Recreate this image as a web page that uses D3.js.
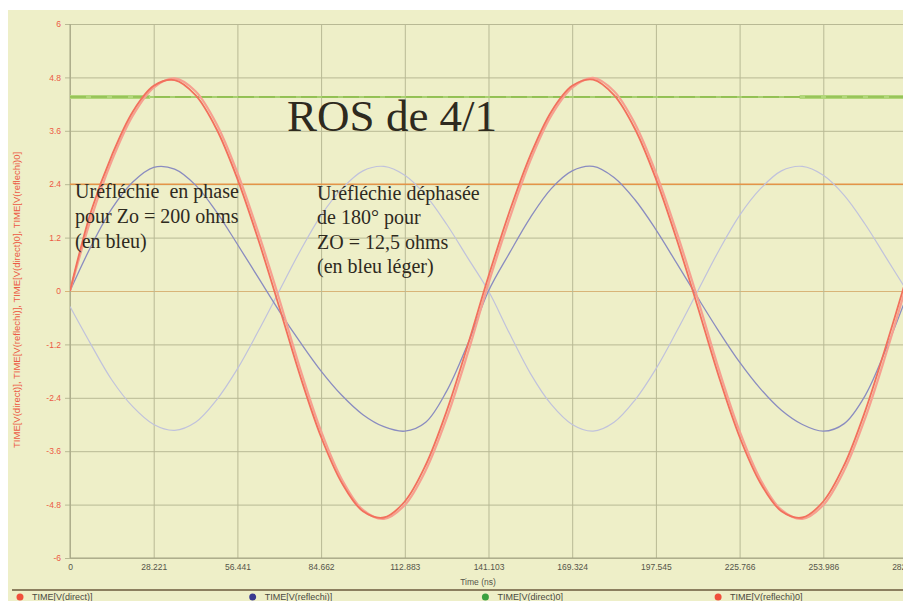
<!doctype html>
<html lang="en">
<head>
<meta charset="utf-8">
<title>ROS de 4/1</title>
<style>
  body { margin: 0; background: #fff; }
  svg { display: block; }
</style>
</head>
<body>
<script src="https://d3js.org/d3.v7.min.js"></script>
<script>
  // time samples (ns), one every 1/20 of the period
  var timeNs = [0, 7.055, 14.11, 21.166, 28.221, 35.276, 42.331, 49.386, 56.441, 63.497,
    70.552, 77.607, 84.662, 91.717, 98.772, 105.828, 112.883, 119.938, 126.993, 134.048,
    141.103, 148.159, 155.214, 162.269, 169.324, 176.379, 183.434, 190.49, 197.545, 204.6,
    211.655, 218.71, 225.766, 232.821, 239.876, 246.931, 253.986, 261.041, 268.097, 275.152, 282.207];

  var vDirect = [0, 1.78, 3.05, 4.03, 4.61, 4.74, 4.4, 3.64, 2.52, 1.15,
    -0.36, -1.91, -3.28, -4.32, -4.95, -5.09, -4.73, -3.91, -2.7, -1.23,
    0.33, 1.78, 3.05, 4.03, 4.61, 4.75, 4.4, 3.64, 2.52, 1.15,
    -0.36, -1.91, -3.28, -4.32, -4.95, -5.09, -4.73, -3.91, -2.7, -1.23, 0.33];

  var vReflechi0 = [0, 1.62, 2.93, 3.94, 4.57, 4.78, 4.49, 3.76, 2.66, 1.31,
    -0.18, -1.75, -3.15, -4.24, -4.92, -5.12, -4.81, -4.03, -2.86, -1.41,
    0.17, 1.62, 2.93, 3.94, 4.57, 4.79, 4.49, 3.76, 2.66, 1.31,
    -0.18, -1.75, -3.15, -4.24, -4.92, -5.12, -4.81, -4.03, -2.86, -1.41, 0.17];

  // Uréfléchie en phase (Zo = 200 ohms)
  var vReflechi = [0, 1.0, 1.85, 2.45, 2.78, 2.74, 2.38, 1.78, 1.05, 0.3,
    -0.45, -1.15, -1.8, -2.35, -2.78, -3.05, -3.15, -2.95, -2.25, -1.2,
    0, 0.85, 1.65, 2.3, 2.7, 2.8, 2.55, 2.05, 1.38, 0.62,
    -0.15, -0.9, -1.6, -2.2, -2.68, -3.0, -3.15, -2.98, -2.35, -1.3, -0.1];

  // Uréfléchie déphasée de 180° (ZO = 12,5 ohms)
  var vReflechiLeger = [-0.35, -1.2, -2.0, -2.6, -3.0, -3.13, -2.95, -2.45, -1.75, -0.9,
    0, 0.9, 1.7, 2.3, 2.7, 2.8, 2.6, 2.15, 1.5, 0.75,
    0, -0.95, -1.85, -2.55, -3.0, -3.15, -2.95, -2.45, -1.75, -0.9,
    0, 0.9, 1.7, 2.3, 2.7, 2.8, 2.6, 2.15, 1.5, 0.75, 0];

  var vDirect0Level = [4.36];
  var vDirect0Bold = [[0, 27], [246, 282.207]];
  var markerLevel = [2.4];

  var xTicks = [0, 28.221, 56.441, 84.662, 112.883, 141.103, 169.324, 197.545, 225.766, 253.986, 282.207];
  var yTicks = [-6, -4.8, -3.6, -2.4, -1.2, 0, 1.2, 2.4, 3.6, 4.8, 6];

  var legendLabels = ['TIME[V(direct)]', 'TIME[V(reflechi)]', 'TIME[V(direct)0]', 'TIME[V(reflechi)0]'];
  var legendColors = ['#f0503c', '#3a3a90', '#3aa040', '#f0503c'];

  var W = 903, H = 601;
  var margin = { top: 24, left: 70 };
  var plotW = 837, plotH = 534;

  var x = d3.scaleLinear().domain([0, 282.207]).range([0, plotW]);
  var y = d3.scaleLinear().domain([-6, 6]).range([plotH, 0]);

  var svg = d3.select('body').append('svg')
      .attr('width', W)
      .attr('height', H);

  // paper background
  svg.append('rect')
      .attr('x', 8).attr('y', 10)
      .attr('width', W - 8).attr('height', H - 10)
      .attr('fill', '#eeefc8');

  var g = svg.append('g')
      .attr('transform', 'translate(' + margin.left + ',' + margin.top + ')');

  g.append('clipPath').attr('id', 'plotclip')
    .append('rect')
      .attr('x', 0).attr('y', -2)
      .attr('width', plotW).attr('height', plotH + 4);

  // grid + y labels
  var yAxis = g.append('g')
      .call(d3.axisLeft(y).tickValues(yTicks).tickSize(-plotW - 5).tickPadding(4)
        .tickFormat(function(d) { return d === 0 ? '0' : String(d); }))
      .attr('transform', 'translate(-5,0)');
  yAxis.select('.domain').remove();
  yAxis.selectAll('.tick line')
      .attr('stroke', function(d) { return d === 0 ? '#d8b478' : '#b8b994'; })
      .attr('stroke-width', 1);
  yAxis.selectAll('.tick text')
      .attr('fill', '#ec5a44')
      .attr('font-family', 'Liberation Sans, Arial, sans-serif')
      .attr('font-size', 8.5);

  var xAxis = g.append('g')
      .attr('transform', 'translate(0,' + plotH + ')')
      .call(d3.axisBottom(x).tickValues(xTicks).tickSize(-plotH).tickPadding(6)
        .tickFormat(function(d) { return d === 0 ? '0' : d3.format('.3f')(d); }));
  xAxis.select('.domain').remove();
  xAxis.selectAll('.tick line')
      .attr('stroke', '#b8b994')
      .attr('stroke-width', 1);
  xAxis.selectAll('.tick text')
      .attr('fill', '#55554a')
      .attr('font-family', 'Liberation Sans, Arial, sans-serif')
      .attr('font-size', 8.5);

  // frame
  g.append('line').attr('x1', 0).attr('x2', 0).attr('y1', 0).attr('y2', plotH)
      .attr('stroke', '#a4a484');
  g.append('line').attr('x1', 0).attr('x2', plotW).attr('y1', plotH).attr('y2', plotH)
      .attr('stroke', '#a4a484');

  var plot = g.append('g').attr('clip-path', 'url(#plotclip)');

  // horizontal levels
  plot.selectAll('.lvl-orange')
    .data(markerLevel)
    .enter().append('line')
      .attr('x1', 0).attr('x2', plotW)
      .attr('y1', function(d) { return y(d); })
      .attr('y2', function(d) { return y(d); })
      .attr('stroke', '#e39448')
      .attr('stroke-width', 1.6);

  plot.selectAll('.lvl-green')
    .data(vDirect0Level)
    .enter().append('line')
      .attr('x1', 0).attr('x2', plotW)
      .attr('y1', function(d) { return y(d); })
      .attr('y2', function(d) { return y(d); })
      .attr('stroke', '#a8d070')
      .attr('stroke-width', 2);
  plot.selectAll('.lvl-green-bold')
    .data(vDirect0Bold)
    .enter().append('line')
      .attr('x1', function(d) { return x(d[0]); })
      .attr('x2', function(d) { return x(d[1]); })
      .attr('y1', y(vDirect0Level[0]))
      .attr('y2', y(vDirect0Level[0]))
      .attr('stroke', '#b2d77a')
      .attr('stroke-width', 4);
  plot.selectAll('.lvl-green2')
    .data(vDirect0Level)
    .enter().append('line')
      .attr('x1', 0).attr('x2', plotW)
      .attr('y1', function(d) { return y(d); })
      .attr('y2', function(d) { return y(d); })
      .attr('stroke', '#7fb23c')
      .attr('stroke-width', 1)
      .attr('stroke-dasharray', '16,5');

  var line = function(vals) {
    return d3.line()
      .x(function(d, i) { return x(timeNs[i]); })
      .y(function(d) { return y(d); })
      .curve(d3.curveCatmullRom)(vals);
  };

  var series = [
    { vals: vReflechiLeger, color: '#c0c2dc', w: 1.2 },
    { vals: vReflechi, color: '#8a8cc0', w: 1.3 },
    { vals: vReflechi0, color: '#f6a090', w: 2.2 },
    { vals: vDirect, color: '#f2705c', w: 1.8 }
  ];

  plot.selectAll('.trace')
    .data(series)
    .enter().append('path')
      .attr('class', 'trace')
      .attr('d', function(d) { return line(d.vals); })
      .attr('fill', 'none')
      .attr('stroke', function(d) { return d.color; })
      .attr('stroke-width', function(d) { return d.w; });

  // axis titles
  svg.append('text')
      .attr('x', 478).attr('y', 585)
      .attr('text-anchor', 'middle')
      .attr('font-family', 'Liberation Sans, Arial, sans-serif')
      .attr('font-size', 8.5)
      .attr('fill', '#55554a')
      .text('Time (ns)');

  svg.append('text')
      .attr('transform', 'translate(20,' + (margin.top + y(-0.2)) + ') rotate(-90)')
      .attr('text-anchor', 'middle')
      .attr('font-family', 'Liberation Sans, Arial, sans-serif')
      .attr('font-size', 9.5)
      .attr('fill', '#ec5a44')
      .text('TIME[V(direct)], TIME[V(reflechi)], TIME[V(direct)0], TIME[V(reflechi)0]');

  // annotations
  var serif = 'Liberation Serif, Times New Roman, serif';
  g.append('text')
      .attr('x', x(73.2)).attr('y', y(3.6))
      .attr('font-family', serif)
      .attr('font-size', 45)
      .attr('fill', '#2e2a1e')
      .text('ROS de 4/1');

  var noteLeft = ['Uréfléchie  en phase', 'pour Zo = 200 ohms', '(en bleu)'];
  var noteRight = ['Uréfléchie déphasée', 'de 180° pour', 'ZO = 12,5 ohms', '(en bleu léger)'];

  g.append('text')
      .attr('font-family', serif)
      .attr('font-size', 20)
      .attr('fill', '#2e2a1e')
      .attr('xml:space', 'preserve')
      .selectAll('tspan')
      .data(noteLeft)
      .enter().append('tspan')
        .attr('x', x(1.7))
        .attr('y', function(d, i) { return y(2.1) + i * 25; })
        .text(function(d) { return d; });

  g.append('text')
      .attr('font-family', serif)
      .attr('font-size', 20)
      .attr('fill', '#2e2a1e')
      .selectAll('tspan')
      .data(noteRight)
      .enter().append('tspan')
        .attr('x', x(83.3))
        .attr('y', function(d, i) { return y(2.05) + i * 24.5; })
        .text(function(d) { return d; });

  // legend
  svg.append('line')
      .attr('x1', 12).attr('x2', W).attr('y1', 590).attr('y2', 590)
      .attr('stroke', '#6b5a3c').attr('stroke-width', 1.4);

  var leg = svg.selectAll('.leg')
    .data(legendLabels)
    .enter().append('g')
      .attr('class', 'leg')
      .attr('transform', function(d, i) { return 'translate(' + (20 + i * 232.7) + ',597)'; });
  leg.append('circle')
      .attr('r', 3.5)
      .attr('fill', function(d, i) { return legendColors[i]; });
  leg.append('text')
      .attr('x', 12).attr('y', 3)
      .attr('font-family', 'Liberation Sans, Arial, sans-serif')
      .attr('font-size', 9)
      .attr('fill', '#4a4a40')
      .text(function(d) { return d; });
</script>
</body>
</html>
